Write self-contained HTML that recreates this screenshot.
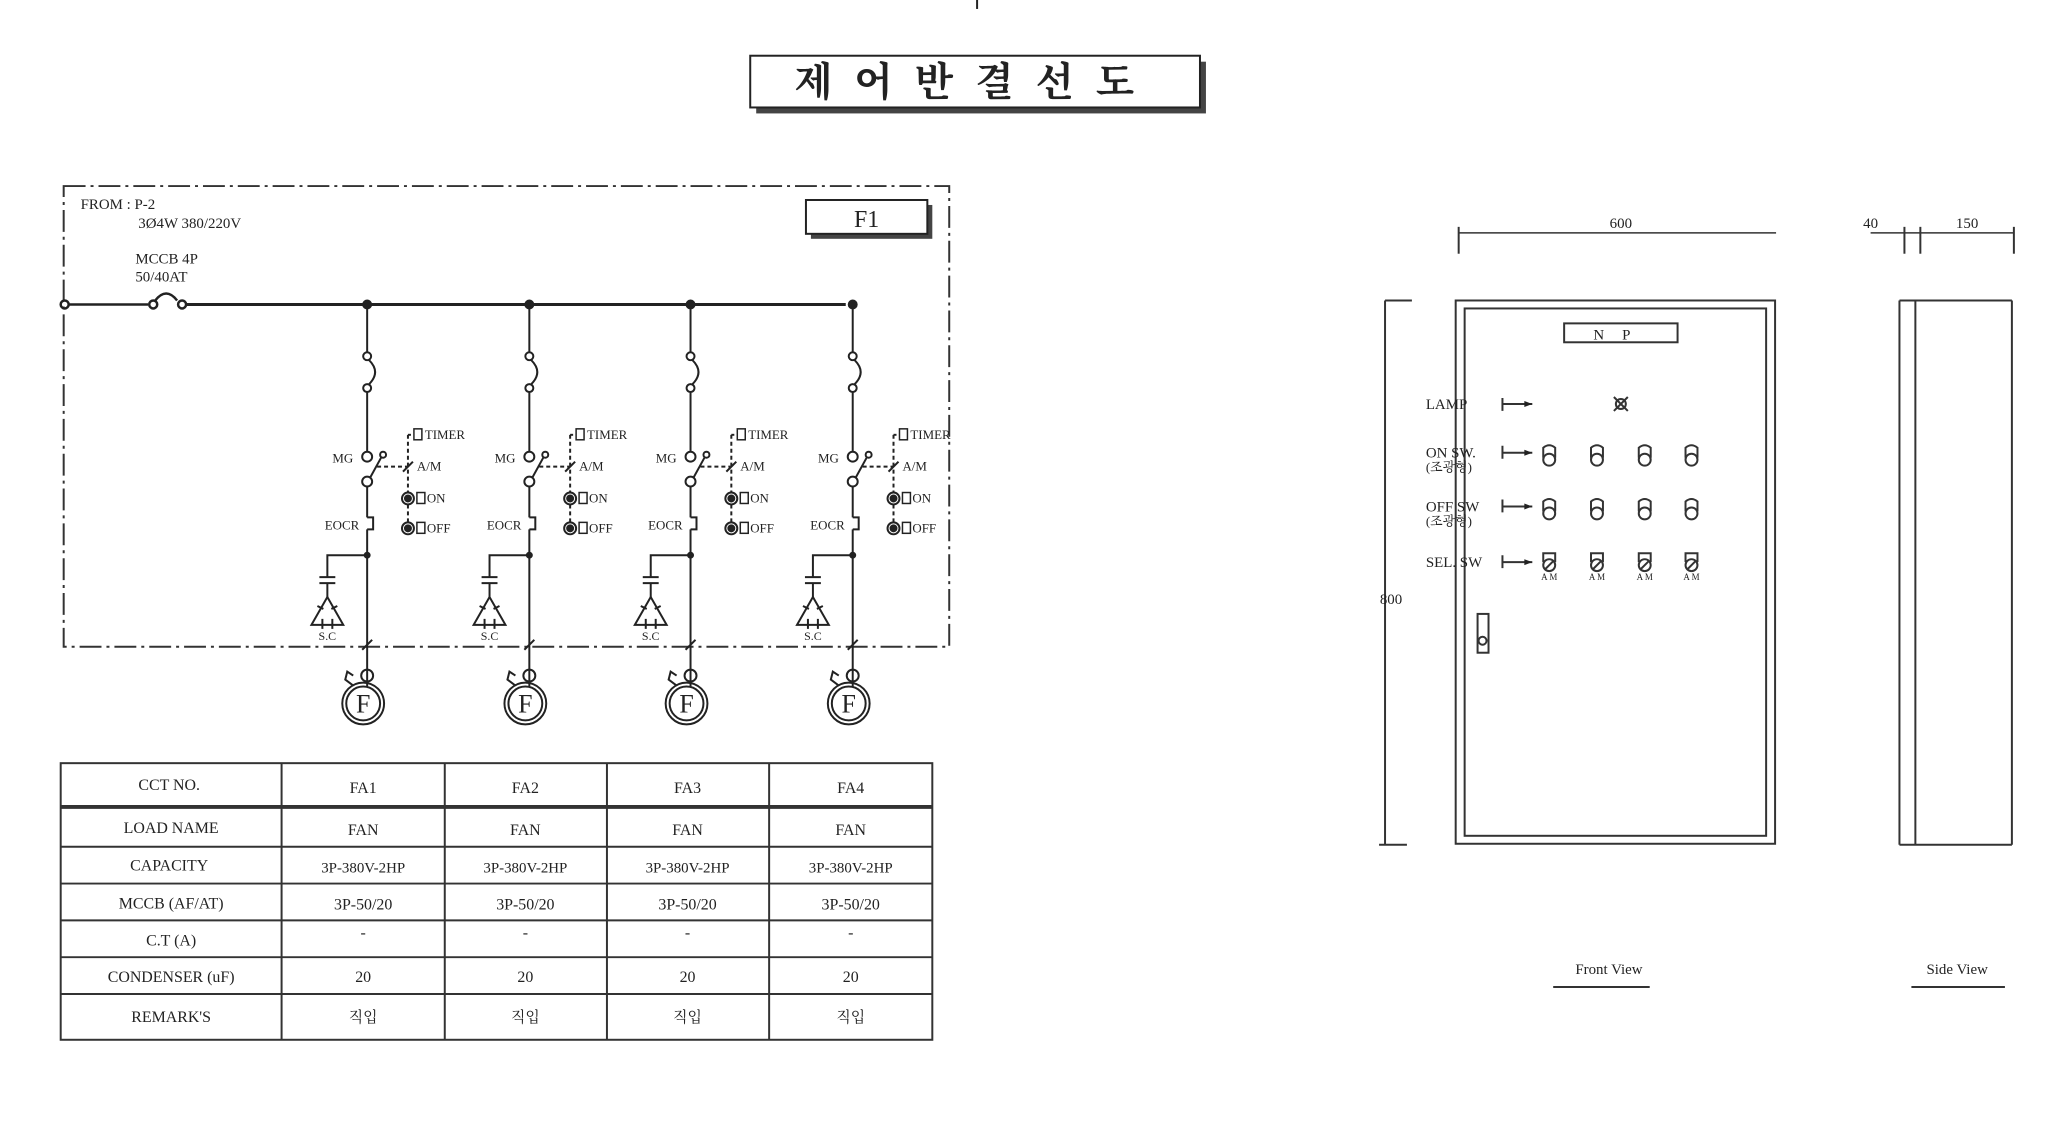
<!DOCTYPE html>
<html><head><meta charset="utf-8"><style>
html,body{margin:0;padding:0;background:#fff;}
svg{display:block}
text{font-family:"Liberation Serif","Noto Serif CJK SC","Noto Sans CJK KR",serif;fill:#222}
</style></head><body>
<svg width="2064" height="1136" viewBox="0 0 2064 1136" xmlns="http://www.w3.org/2000/svg">
<defs>
<g id="br" stroke="#222" stroke-width="2" fill="none">
  <circle cx="0" cy="306" r="4" fill="#222"/>
  <line x1="0" y1="306" x2="0" y2="354"/>
  <circle cx="0" cy="358" r="4"/>
  <path d="M2 362 Q14 374 2 386"/>
  <circle cx="0" cy="390" r="4"/>
  <line x1="0" y1="394" x2="0" y2="454"/>
  <circle cx="0" cy="459" r="5"/>
  <circle cx="0" cy="484" r="5"/>
  <line x1="3" y1="480" x2="14" y2="460"/>
  <circle cx="16" cy="457" r="3"/>
  <line x1="10" y1="469" x2="40" y2="469" stroke-dasharray="4 3"/>
  <line x1="0" y1="489" x2="0" y2="520"/>
  <path d="M0 520 h6 v12 h-6"/>
  <line x1="0" y1="532" x2="0" y2="690"/>
  <circle cx="0" cy="558" r="2.5" fill="#222"/>
  <polyline points="0,558 -40,558 -40,580"/>
  <line x1="-48" y1="580" x2="-32" y2="580"/>
  <line x1="-48" y1="586" x2="-32" y2="586"/>
  <line x1="-40" y1="586" x2="-40" y2="600"/>
  <path d="M-40 600 L-56 628 L-24 628 Z"/>
  <path d="M-44 612 l-6 -3 M-36 612 l6 -3 M-45 622 v10 M-35 622 v10"/>
  <line x1="-5" y1="653" x2="5" y2="643"/>
  <circle cx="0" cy="679" r="6"/>
  <circle cx="-4" cy="707" r="21"/>
  <circle cx="-4" cy="707" r="17"/>
  <path d="M-14 689 l-8 -6 l2 -8 l6 4"/>
  <line x1="41" y1="437" x2="41" y2="531" stroke-dasharray="4 3"/>
  <line x1="41" y1="437" x2="46" y2="437" stroke-dasharray="3 2"/>
  <rect x="47" y="431" width="8" height="11" stroke-width="1.5"/>
  <line x1="36" y1="474" x2="46" y2="464"/>
  <circle cx="41" cy="501" r="6" fill="#fff"/>
  <circle cx="41" cy="501" r="3" fill="#222"/>
  <rect x="50" y="495" width="8" height="11" stroke-width="1.5"/>
  <circle cx="41" cy="531" r="6" fill="#fff"/>
  <circle cx="41" cy="531" r="3" fill="#222"/>
  <rect x="50" y="525" width="8" height="11" stroke-width="1.5"/>
</g>
<g id="brt">
  <text x="-14" y="465" font-size="13" text-anchor="end">MG</text>
  <text x="-8" y="532" font-size="13" text-anchor="end">EOCR</text>
  <text x="-40" y="643" font-size="12" text-anchor="middle">S.C</text>
  <text x="-4" y="716" font-size="26" text-anchor="middle">F</text>
  <text x="58" y="441" font-size="13">TIMER</text>
  <text x="50" y="473" font-size="13">A/M</text>
  <text x="60" y="505" font-size="13">ON</text>
  <text x="60" y="535" font-size="13">OFF</text>
</g>
</defs>
<g transform="scale(0.995)">
<line x1="982" y1="0" x2="982" y2="9" stroke="#222" stroke-width="2"/>
<!-- title -->
<rect x="760" y="62" width="452" height="52" fill="#444"/>
<rect x="754" y="56" width="452" height="52" fill="#fff" stroke="#222" stroke-width="2"/>
<text x="980" y="96" font-size="40" text-anchor="middle" font-family="Noto Serif CJK SC, serif" font-weight="bold" letter-spacing="22">제어반결선도</text>

<!-- frame -->
<rect x="64" y="187" width="890" height="463" fill="none" stroke="#333" stroke-width="2" stroke-dasharray="22 5 3 5"/>
<rect x="815" y="206" width="122" height="34" fill="#444"/>
<rect x="810" y="201" width="122" height="34" fill="#fff" stroke="#222" stroke-width="2"/>
<text x="871" y="228" font-size="24" text-anchor="middle">F1</text>
<text x="81" y="210" font-size="15">FROM : P-2</text>
<text x="139" y="229" font-size="15">3Ø4W 380/220V</text>
<text x="136" y="265" font-size="15">MCCB 4P</text>
<text x="136" y="283" font-size="15">50/40AT</text>
<g stroke="#222" stroke-width="2.5" fill="none">
  <circle cx="65" cy="306" r="4"/>
  <line x1="69" y1="306" x2="149" y2="306"/>
  <circle cx="154" cy="306" r="4"/>
  <path d="M156 302 Q167 288 178 302"/>
  <circle cx="183" cy="306" r="4"/>
  <line x1="187" y1="306" x2="850" y2="306" stroke-width="3"/>
</g>
<use href="#br" x="369"/><use href="#brt" x="369"/>
<use href="#br" x="532"/><use href="#brt" x="532"/>
<use href="#br" x="694"/><use href="#brt" x="694"/>
<use href="#br" x="857"/><use href="#brt" x="857"/>

<!-- table -->
<g stroke="#333" stroke-width="2" fill="none">
  <rect x="61" y="767" width="876" height="278"/>
  <line x1="61" y1="811" x2="937" y2="811" stroke-width="4"/>
  <line x1="61" y1="851" x2="937" y2="851"/>
  <line x1="61" y1="888" x2="937" y2="888"/>
  <line x1="61" y1="925" x2="937" y2="925"/>
  <line x1="61" y1="962" x2="937" y2="962"/>
  <line x1="61" y1="999" x2="937" y2="999"/>
  <line x1="283" y1="767" x2="283" y2="1045"/>
  <line x1="447" y1="767" x2="447" y2="1045"/>
  <line x1="610" y1="767" x2="610" y2="1045"/>
  <line x1="773" y1="767" x2="773" y2="1045"/>
</g>
<g font-size="16" text-anchor="middle">
  <text x="170" y="794">CCT NO.</text>
  <text x="365" y="797">FA1</text><text x="528" y="797">FA2</text><text x="691" y="797">FA3</text><text x="855" y="797">FA4</text>
  <text x="172" y="837">LOAD NAME</text>
  <text x="365" y="839">FAN</text><text x="528" y="839">FAN</text><text x="691" y="839">FAN</text><text x="855" y="839">FAN</text>
  <text x="170" y="875">CAPACITY</text>
  <text x="365" y="877" font-size="15">3P-380V-2HP</text><text x="528" y="877" font-size="15">3P-380V-2HP</text><text x="691" y="877" font-size="15">3P-380V-2HP</text><text x="855" y="877" font-size="15">3P-380V-2HP</text>
  <text x="172" y="913">MCCB (AF/AT)</text>
  <text x="365" y="914">3P-50/20</text><text x="528" y="914">3P-50/20</text><text x="691" y="914">3P-50/20</text><text x="855" y="914">3P-50/20</text>
  <text x="172" y="950">C.T (A)</text>
  <text x="365" y="942">-</text><text x="528" y="942">-</text><text x="691" y="942">-</text><text x="855" y="942">-</text>
  <text x="172" y="987">CONDENSER (uF)</text>
  <text x="365" y="987">20</text><text x="528" y="987">20</text><text x="691" y="987">20</text><text x="855" y="987">20</text>
  <text x="172" y="1027">REMARK'S</text>
  <text x="365" y="1027" font-size="15">직입</text><text x="528" y="1027" font-size="15">직입</text><text x="691" y="1027" font-size="15">직입</text><text x="855" y="1027" font-size="15">직입</text>
</g>

<!-- front view -->
<g stroke="#333" stroke-width="2" fill="none">
  <line x1="1466" y1="234" x2="1785" y2="234" stroke-width="1.5"/>
  <line x1="1466" y1="228" x2="1466" y2="255"/>
  <line x1="1392" y1="302" x2="1392" y2="849"/>
  <line x1="1392" y1="302" x2="1419" y2="302"/>
  <line x1="1386" y1="849" x2="1414" y2="849"/>
  <rect x="1463" y="302" width="321" height="546"/>
  <rect x="1472" y="310" width="303" height="530"/>
  <rect x="1572" y="325" width="114" height="19"/>
  <path d="M1510 400 v13 M1510 406 h30"/>
  <path d="M1510 448 v13 M1510 455 h30 M1510 502 v13 M1510 509 h30 M1510 558 v13 M1510 565 h30"/>
  <path d="M1622 399 l14 14 M1636 399 l-14 14"/>
  <circle cx="1629" cy="406" r="5"/>
  <rect x="1485" y="617" width="11" height="39"/>
  <circle cx="1490" cy="644" r="4"/>
  <line x1="1909" y1="302" x2="2022" y2="302"/>
  <line x1="1909" y1="302" x2="1909" y2="849"/>
  <line x1="1925" y1="302" x2="1925" y2="849"/>
  <line x1="2022" y1="302" x2="2022" y2="849"/>
  <line x1="1909" y1="849" x2="2022" y2="849"/>
  <line x1="1880" y1="234" x2="2024" y2="234" stroke-width="1.5"/>
  <line x1="1914" y1="228" x2="1914" y2="255"/>
  <line x1="1930" y1="228" x2="1930" y2="255"/>
  <line x1="2024" y1="228" x2="2024" y2="255"/>
  <line x1="1561" y1="992" x2="1658" y2="992"/>
  <line x1="1921" y1="992" x2="2015" y2="992"/>
</g>
<g fill="#222">
  <path d="M1540 406 l-8 -3 v6z M1540 455 l-8 -3 v6z M1540 509 l-8 -3 v6z M1540 565 l-8 -3 v6z"/>
</g>
<g stroke="#333" stroke-width="2" fill="none">
  <g id="sw"><path d="M1551 460 v-10 q6 -5 12 0 v10"/><circle cx="1557" cy="462" r="6"/></g>
  <use href="#sw" x="48"/><use href="#sw" x="96"/><use href="#sw" x="143"/>
  <use href="#sw" y="54"/><use href="#sw" x="48" y="54"/><use href="#sw" x="96" y="54"/><use href="#sw" x="143" y="54"/>
  <g id="sel"><path d="M1551 565 v-9 h12 v9"/><circle cx="1557" cy="568" r="6"/><line x1="1553" y1="572" x2="1561" y2="564"/></g>
  <use href="#sel" x="48"/><use href="#sel" x="96"/><use href="#sel" x="143"/>
</g>
<g font-size="15">
  <text x="1629" y="229" text-anchor="middle">600</text>
  <text x="1880" y="229" text-anchor="middle">40</text>
  <text x="1977" y="229" text-anchor="middle">150</text>
  <text x="1398" y="607" text-anchor="middle">800</text>
  <text x="1629" y="341" text-anchor="middle" letter-spacing="18">NP</text>
  <text x="1433" y="411">LAMP</text>
  <text x="1433" y="460">ON SW.</text>
  <text x="1433" y="474" font-size="13">(조광형)</text>
  <text x="1433" y="514">OFF SW</text>
  <text x="1433" y="528" font-size="13">(조광형)</text>
  <text x="1433" y="570">SEL. SW</text>
  <g font-size="9" text-anchor="middle"><text x="1557" y="583">A M</text><text x="1605" y="583">A M</text><text x="1653" y="583">A M</text><text x="1700" y="583">A M</text></g>
  <text x="1617" y="979" text-anchor="middle">Front View</text>
  <text x="1967" y="979" text-anchor="middle">Side View</text>
</g>
</g>
</svg>
</body></html>
